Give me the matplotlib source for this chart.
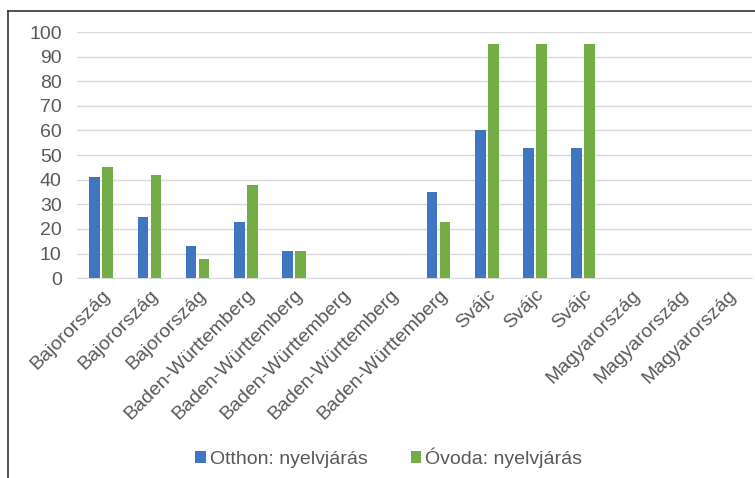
import matplotlib.pyplot as plt
import matplotlib.lines as mlines
import numpy as np

plt.rcParams['font.family'] = ['Liberation Sans', 'DejaVu Sans']

# data
categories = ['Bajorország', 'Bajorország', 'Bajorország',
              'Baden-Württemberg', 'Baden-Württemberg', 'Baden-Württemberg',
              'Baden-Württemberg', 'Baden-Württemberg',
              'Svájc', 'Svájc', 'Svájc',
              'Magyarország', 'Magyarország', 'Magyarország']
otthon = [41, 25, 13, 23, 11, 0, 0, 35, 60, 53, 53, 0, 0, 0]
ovoda = [45, 42, 8, 38, 11, 0, 0, 23, 95, 95, 95, 0, 0, 0]
series_names = ['Otthon: nyelvjárás', 'Óvoda: nyelvjárás']
yticks = [0, 10, 20, 30, 40, 50, 60, 70, 80, 90, 100]

blue = '#3f75c1'
green = '#74ad47'
txt = '#595959'

fig = plt.figure(figsize=(7.55, 4.78), dpi=100)
ax = fig.add_axes([0.102, 0.418, 0.894, 0.515])

x = np.arange(len(categories))
w = 0.22
ax.bar(x - 0.135, otthon, w, color=blue, label=series_names[0], zorder=3)
ax.bar(x + 0.135, ovoda, w, color=green, label=series_names[1], zorder=3)

ax.set_xlim(-0.5, len(categories) - 0.5)
ax.set_ylim(0, 100)
ax.set_yticks(yticks)
ax.yaxis.grid(True, color='#d9d9d9', linewidth=1, zorder=0)
for s in ['top', 'right', 'left']:
    ax.spines[s].set_visible(False)
ax.spines['bottom'].set_color('#d9d9d9')
ax.tick_params(axis='both', length=0, colors=txt, labelsize=14)
ax.tick_params(axis='y', pad=11)
ax.set_xticks(x)
ax.set_xticklabels(categories, rotation=45, ha='right', va='top',
                   rotation_mode='anchor')
ax.tick_params(axis='x', pad=6)

fig.legend(loc='center', bbox_to_anchor=(0.515, 0.042), ncol=2, frameon=False,
           fontsize=14, handlelength=0.55, handleheight=0.55, handletextpad=0.2,
           columnspacing=2.2, labelcolor=txt)

# frame around the chart
fig.add_artist(mlines.Line2D([8 / 755, 8 / 755], [0, 1 - 11 / 478],
                             color='#333333', linewidth=1.2))
fig.add_artist(mlines.Line2D([8 / 755, 1], [1 - 11 / 478, 1 - 11 / 478],
                             color='#333333', linewidth=1.2))

fig.savefig('out.png', dpi=100)
